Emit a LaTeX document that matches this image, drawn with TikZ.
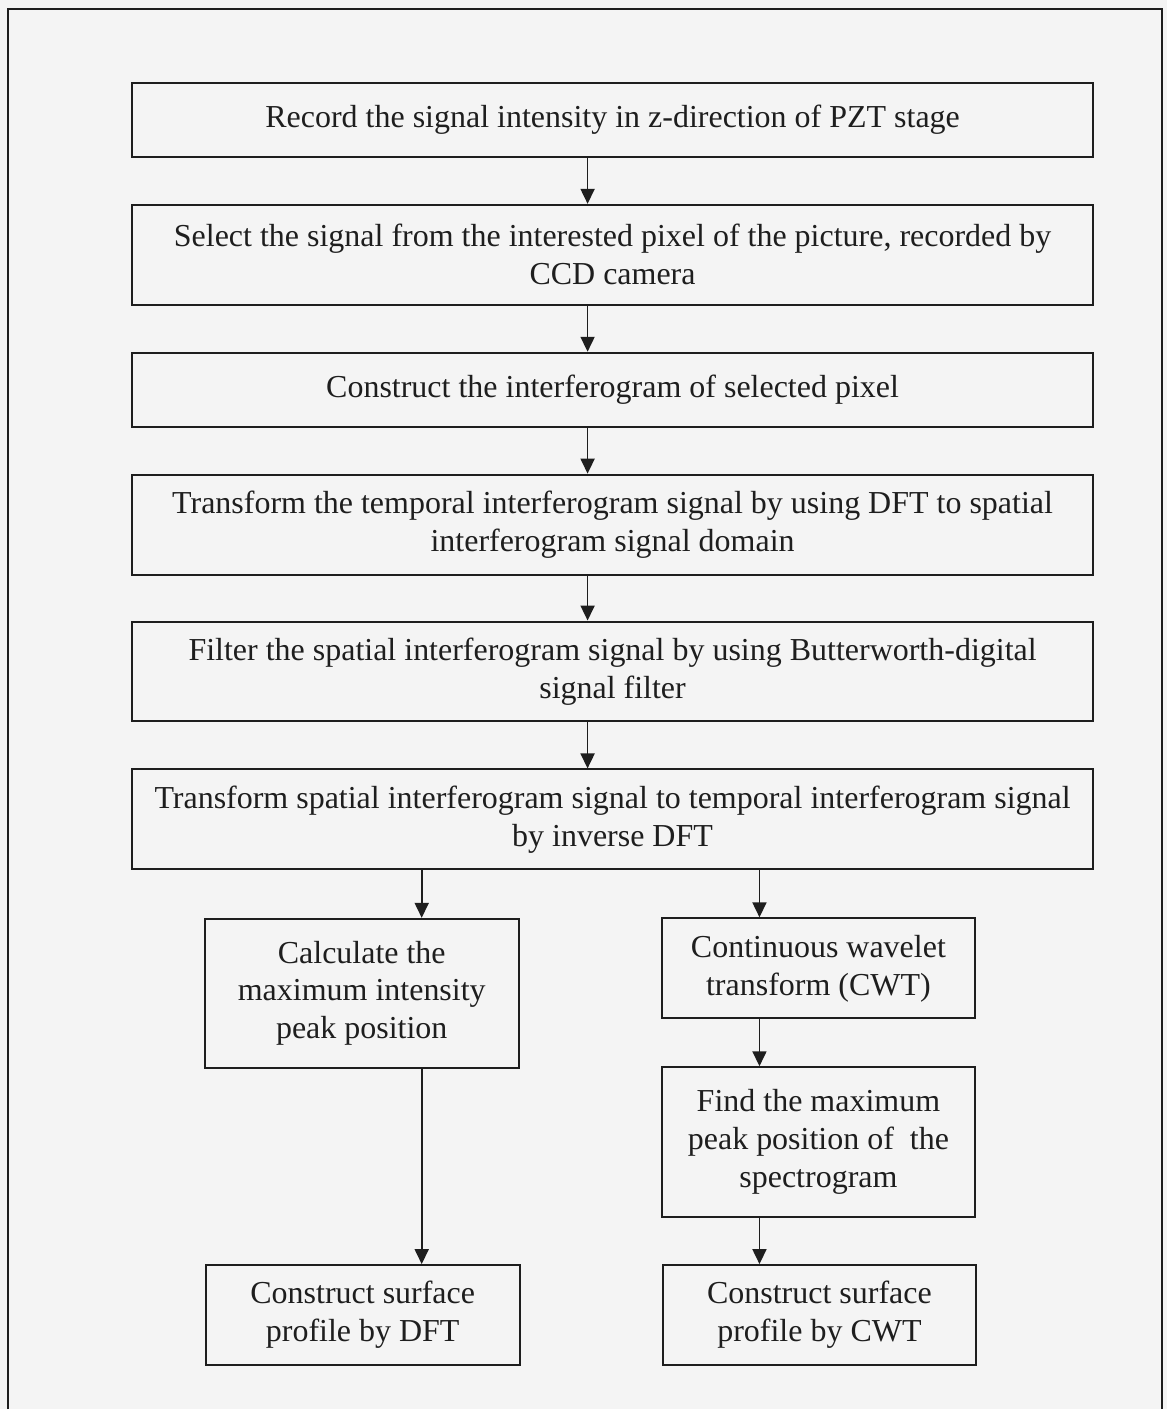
\documentclass[tikz,border=0pt]{standalone}
\usepackage{fontspec}
\setmainfont{Liberation Serif}
\usetikzlibrary{arrows.meta}
\usepackage{xcolor}
\definecolor{paper}{RGB}{244,244,244}
\definecolor{ink}{RGB}{30,30,30}

\begin{document}
\begin{tikzpicture}[x=0.5pt, y=-0.5pt, >={Triangle[length=7.5pt,width=7pt]},
  every stepbox/.style={draw=ink, line width=1pt, fill=paper, align=center,
    text=ink, font=\fontsize{16}{19}\selectfont, inner sep=2pt},
  flow/.style={->, draw=ink, line width=0.9pt}]

\fill[paper] (0,0) rectangle (1168,1410);
\draw[ink, line width=1pt] (8,1410) -- (8,9) -- (1163,9) -- (1163,1410);

\coordinate (midline) at (588,0);
\coordinate (leftline) at (422,0);
\coordinate (rightline) at (760,0);

% main column
\foreach \yc/\h/\txt [count=\i] in {
  120/74/{Record the signal intensity in z-direction of PZT stage},
  255/100/{Select the signal from the interested pixel of the picture, recorded by\\ CCD camera},
  390/74/{Construct the interferogram of selected pixel},
  525/100/{Transform the temporal interferogram signal by using DFT to spatial\\ interferogram signal domain},
  672/100/{Filter the spatial interferogram signal by using Butterworth-digital\\ signal filter},
  820/100/{Transform spatial interferogram signal to temporal interferogram signal\\ by inverse DFT}}
  \node [every stepbox/.try, minimum width=481pt, minimum height=\h*0.5pt] (step-\i) at (613,\yc) {\txt};

\foreach \i [count=\j from 2] in {1,...,5}
  \draw [flow] (step-\i.south -| midline) -- (step-\j.north -| midline);

% DFT branch
\node [every stepbox/.try, minimum width=157pt, minimum height=74.5pt] (calc) at (362,994)
  {Calculate the\\ maximum intensity\\ peak position};
\node [every stepbox/.try, minimum width=157pt, minimum height=50pt] (dftprof) at (363,1316)
  {Construct surface\\ profile by DFT};

% CWT branch
\node [every stepbox/.try, minimum width=157pt, minimum height=50pt] (cwt) at (819,969)
  {Continuous wavelet\\ transform (CWT)};
\node [every stepbox/.try, minimum width=157pt, minimum height=75pt] (peak) at (819,1143)
  {Find the maximum\\ peak position of\ \ the\\ spectrogram};
\node [every stepbox/.try, minimum width=157pt, minimum height=50pt] (cwtprof) at (820,1316)
  {Construct surface\\ profile by CWT};

\draw [flow] (step-6.south -| leftline) -- (calc.north -| leftline);
\draw [flow] (calc.south -| leftline) -- (dftprof.north -| leftline);
\draw [flow] (step-6.south -| rightline) -- (cwt.north -| rightline);
\draw [flow] (cwt.south -| rightline) -- (peak.north -| rightline);
\draw [flow] (peak.south -| rightline) -- (cwtprof.north -| rightline);

\end{tikzpicture}
\end{document}
